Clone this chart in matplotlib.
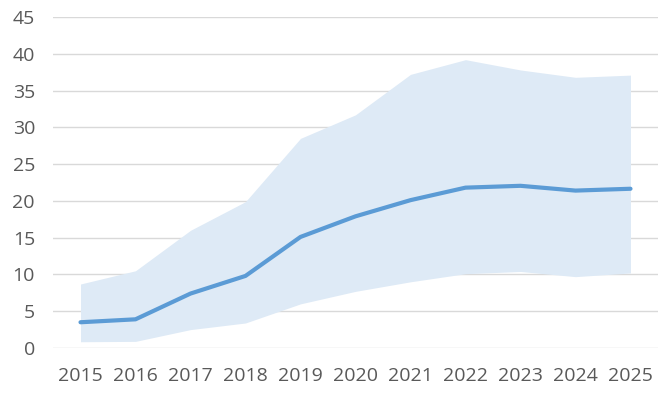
import matplotlib.pyplot as plt
import numpy as np

years = ['2015', '2016', '2017', '2018', '2019', '2020', '2021', '2022', '2023', '2024', '2025']
median = [3.5, 3.9, 7.4, 9.8, 15.1, 17.9, 20.1, 21.8, 22.05, 21.4, 21.65]
upper = [8.7, 10.5, 16.0, 19.9, 28.5, 31.7, 37.2, 39.2, 37.8, 36.8, 37.1]
lower = [0.85, 0.9, 2.5, 3.4, 6.0, 7.7, 9.0, 10.1, 10.4, 9.7, 10.2]

plt.rcParams['font.family'] = ['Open Sans', 'DejaVu Sans']

fig = plt.figure(figsize=(6.62, 3.96), dpi=100)
ax = fig.add_axes([53 / 662, 1 - 348 / 396, 605 / 662, 331 / 396])

x = np.arange(len(years))
ax.fill_between(x, lower, upper, color='#DEEAF6', linewidth=0, zorder=2)
ax.plot(x, median, color='#5B9BD5', linewidth=3, solid_capstyle='round', zorder=3)

ax.set_xlim(-0.5, len(years) - 0.5)
ax.set_ylim(0, 45)
ax.set_yticks(np.arange(0, 46, 5))
ax.set_xticks(x)
ax.set_xticklabels(years)
ax.grid(axis='y', color='#D9D9D9', linewidth=1, zorder=1)
ax.set_axisbelow(True)
for s in ax.spines.values():
    s.set_visible(False)
ax.tick_params(length=0, labelsize=14, colors='#595959', pad=14)
ax.tick_params(axis='y', pad=13)

fig.savefig('out.png', dpi=100)
